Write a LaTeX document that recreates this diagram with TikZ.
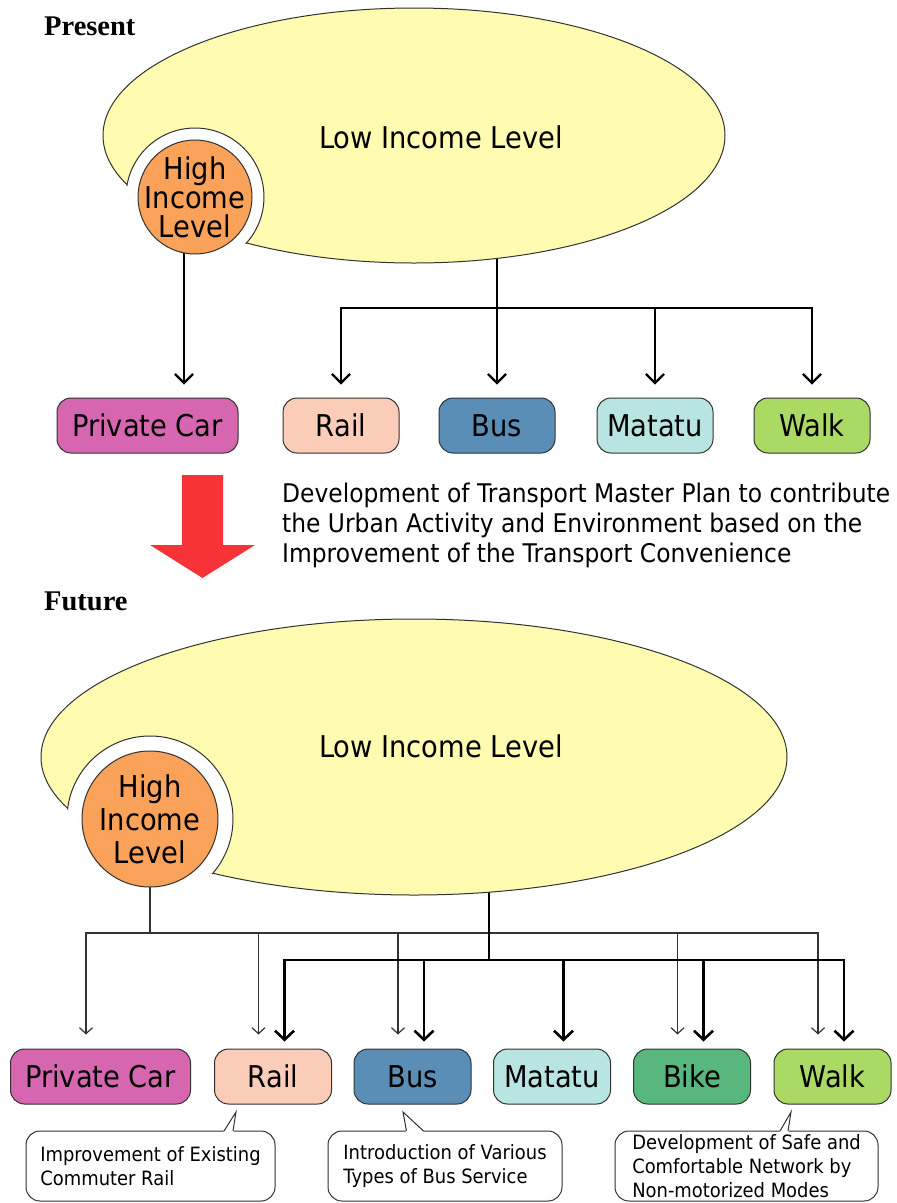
\documentclass[tikz,border=0pt]{standalone}
\usepackage{fontspec}
\setmainfont{DejaVu Sans}[FakeStretch=0.91]
\newfontfamily\headfont{Liberation Serif}
\usetikzlibrary{arrows.meta,calc}
\pgfdeclarelayer{back}
\pgfsetlayers{back,main}

\definecolor{lowyellow}{RGB}{255,251,176}
\definecolor{highorange}{RGB}{250,162,90}
\definecolor{carpink}{RGB}{214,102,176}
\definecolor{railpeach}{RGB}{251,205,185}
\definecolor{busblue}{RGB}{91,142,183}
\definecolor{matteal}{RGB}{184,228,226}
\definecolor{bikegreen}{RGB}{88,183,125}
\definecolor{walklime}{RGB}{170,218,100}
\definecolor{edgegray}{RGB}{50,50,50}
\definecolor{arrowred}{RGB}{248,51,56}

\tikzset{
  modebox/.style={draw=edgegray, line width=1pt, rounded corners=14pt,
    minimum height=55pt, inner sep=0pt, font=\fontsize{30}{34}\selectfont},
  highnode/.style={circle, draw=edgegray, line width=1pt, fill=highorange, inner sep=0pt},
  hightext/.style={align=center, inner sep=0pt},
  lowtext/.style={anchor=base, inner sep=0pt, font=\fontsize{30}{34}\selectfont},
  outline/.style={draw=edgegray, line width=1pt},
  lowshape/.style={fill=lowyellow, draw=edgegray, line width=1pt},
  link/.style={line width=2.2pt},
  linkarrow/.style={link, -{Straight Barb[length=9pt,width=18pt]}},
  minorlink/.style={line width=1.2pt, draw=black!80},
  minorarrow/.style={minorlink, -{Straight Barb[length=6pt,width=13pt]}},
  majorlink/.style={line width=2.6pt},
  majorarrow/.style={majorlink, -{Straight Barb[length=9pt,width=19pt]}},
  callout/.style={draw=edgegray, line width=1pt, fill=white, rounded corners=14pt,
    minimum height=70pt, inner xsep=8pt, inner ysep=0pt, align=left,
    font=\fontsize{19.7}{24}\selectfont},
  heading/.style={anchor=base west, inner sep=0pt,
    font=\headfont\bfseries\fontsize{28.5}{30}\selectfont},
}

\begin{document}
\begin{tikzpicture}[x=1pt,y=-1pt]
\useasboundingbox (0,0) rectangle (897,1203);
\begin{pgfonlayer}{back}
  \fill[white] (0,0) rectangle (897,1203);
\end{pgfonlayer}

% ---------------- Present ----------------
\node[heading] (present) at (44,35) {Present};

% low income area with a hollow around the high income circle
\filldraw[lowshape] (414,135.5) ellipse[x radius=311, y radius=127.5];
\begin{scope}
  \clip (414,135.5) ellipse[x radius=312, y radius=128.5];
  \fill[white] (195,197) circle[radius=69];
  \draw[outline] (195,197) circle[radius=69];
\end{scope}
\node[lowtext] (low1) at (441,148) {Low Income Level};
\node[highnode, minimum size=114pt] (hi1) at (195,197) {};
\node[hightext, font=\fontsize{30}{29}\selectfont] (hi1label) at (hi1.center) {High\\Income\\Level};

% transport modes
\node[modebox, fill=carpink,   minimum width=181pt] (pcar1) at (147.5,425.5) {Private Car};
\node[modebox, fill=railpeach, minimum width=116pt] (rail1) at (341,425.5) {Rail};
\node[modebox, fill=busblue,   minimum width=116pt] (bus1)  at (497,425.5) {Bus};
\node[modebox, fill=matteal,   minimum width=116pt] (mat1)  at (655,425.5) {Matatu};
\node[modebox, fill=walklime,  minimum width=116pt] (walk1) at (812,425.5) {Walk};

\coordinate (hi1drop)  at ([xshift=-11pt]hi1.center);
\coordinate (low1drop) at (497,200);
\coordinate (split1)   at (497,308);
\begin{pgfonlayer}{back}
  \draw[linkarrow, shorten >=13pt] (hi1drop) -- (hi1drop |- pcar1.north);
  \draw[link] (low1drop) -- (split1);
  \draw[link, line cap=rect] (split1 -| rail1) -- (split1 -| walk1);
  \foreach \m in {rail1,bus1,mat1,walk1}
    \draw[linkarrow, shorten >=13pt] (split1 -| \m) -- (\m.north);
\end{pgfonlayer}

% ---------------- transition ----------------
\fill[arrowred] (182,475) -- (223,475) -- (223,545) -- (255,545) -- (202.5,578)
  -- (150,545) -- (182,545) -- cycle;
\node[anchor=north west, inner sep=0pt, align=left, font=\fontsize{25.7}{30}\selectfont] (plan) at (282,483)
  {Development of Transport Master Plan to contribute\\
   the Urban Activity and Environment based on the\\
   Improvement of the Transport Convenience};

% ---------------- Future ----------------
\node[heading] (future) at (44,610) {Future};

\filldraw[lowshape] (414,757) ellipse[x radius=373, y radius=138];
\begin{scope}
  \clip (414,757) ellipse[x radius=374, y radius=139];
  \fill[white] (150,819) circle[radius=83];
  \draw[outline] (150,819) circle[radius=83];
\end{scope}
\node[lowtext] (low2) at (441,757) {Low Income Level};
\node[highnode, minimum size=136pt] (hi2) at (150,819) {};
\node[hightext, font=\fontsize{30}{33}\selectfont] (hi2label) at (hi2.center) {High\\Income\\Level};

\node[modebox, fill=carpink,   minimum width=180pt] (pcar2) at (100.5,1076.5) {Private Car};
\node[modebox, fill=railpeach, minimum width=117pt] (rail2) at (273,1076.5) {Rail};
\node[modebox, fill=busblue,   minimum width=117pt] (bus2)  at (412.5,1076.5) {Bus};
\node[modebox, fill=matteal,   minimum width=117pt] (mat2)  at (552,1076.5) {Matatu};
\node[modebox, fill=bikegreen, minimum width=117pt] (bike2) at (692,1076.5) {Bike};
\node[modebox, fill=walklime,  minimum width=117pt] (walk2) at (832.5,1076.5) {Walk};

\foreach \m in {pcar2,rail2,bus2,mat2,bike2,walk2} {
  \coordinate (\m-a) at ([xshift=-14.5pt]\m.north);
  \coordinate (\m-b) at ([xshift=11.5pt]\m.north);
}
\coordinate (split2a)  at (150,933);
\coordinate (low2drop) at (489,800);
\coordinate (split2b)  at (489,960);
\begin{pgfonlayer}{back}
  % high income users
  \draw[minorlink] (hi2.center) -- (split2a);
  \draw[minorlink, line cap=rect] (pcar2-a |- split2a) -- (walk2-a |- split2a);
  \foreach \m in {pcar2,rail2,bus2,bike2,walk2}
    \draw[minorarrow, shorten >=14pt] (\m-a |- split2a) -- (\m-a);
  % low income users
  \draw[majorlink] (low2drop) -- (split2b);
  \draw[majorlink, line cap=rect] (rail2-b |- split2b) -- (walk2-b |- split2b);
  \foreach \m in {rail2,bus2,mat2,bike2,walk2}
    \draw[majorarrow, shorten >=7pt] (\m-b |- split2b) -- (\m-b);
\end{pgfonlayer}

% measures
\node[callout, minimum width=249pt] (noterail) at (150.5,1166) {Improvement of Existing\\Commuter Rail};
\node[callout, minimum width=234pt] (notebus)  at (445,1166) {Introduction of Various\\Types of Bus Service};
\node[callout, minimum width=263pt] (notewalk) at (746.5,1166) {Development of Safe and\\Comfortable Network by\\Non-motorized Modes};

\coordinate (tiprail) at (236,1112);
\coordinate (tipbus)  at (403,1112);
\coordinate (tipwalk) at (791,1112);
\fill[white] (223.5,1132) -- (tiprail) -- (233.5,1132) -- cycle;
\draw[outline, line join=miter] (224,1131) -- (tiprail) -- (233,1131);
\fill[white] (406,1132) -- (tipbus) -- (424,1132) -- cycle;
\draw[outline, line join=miter] (406.5,1131) -- (tipbus) -- (423.5,1131);
\fill[white] (779.5,1132) -- (tipwalk) -- (788.5,1132) -- cycle;
\draw[outline, line join=miter] (780,1131) -- (tipwalk) -- (788,1131);
\end{tikzpicture}
\end{document}
